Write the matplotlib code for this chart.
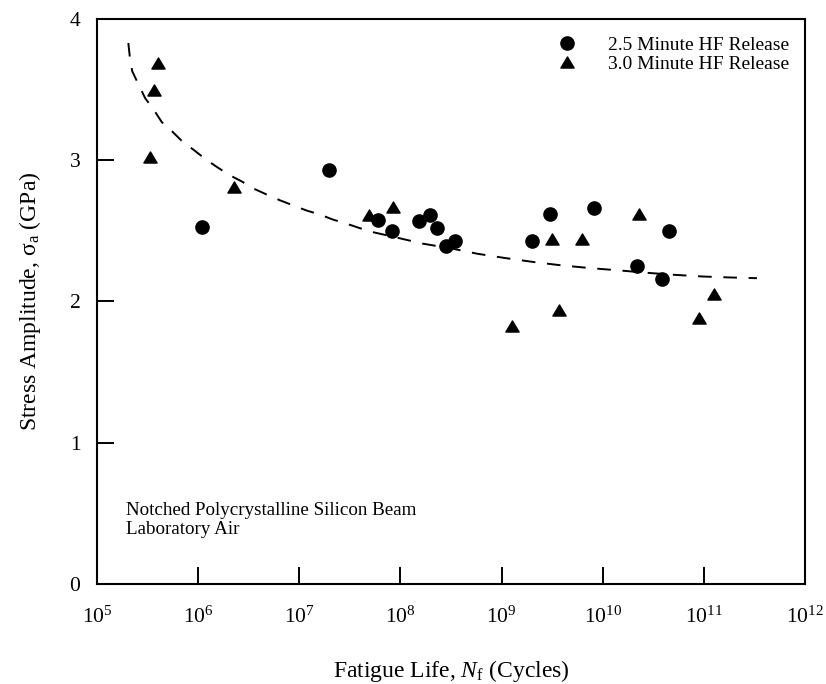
import matplotlib
matplotlib.use("Agg")
import matplotlib.pyplot as plt
from matplotlib.path import Path

plt.rcParams['font.family'] = ['Liberation Serif', 'DejaVu Serif']
plt.rcParams['mathtext.fontset'] = 'custom'
plt.rcParams['mathtext.rm'] = 'Liberation Serif'
plt.rcParams['mathtext.it'] = 'Liberation Serif:italic'
plt.rcParams['mathtext.default'] = 'rm'

# 2.5 minute HF release (circles)
circ_N = [1.09e6, 1.97e7, 5.96e7, 8.34e7, 1.51e8, 1.94e8, 2.29e8, 2.83e8,
          3.48e8, 1.98e9, 3.03e9, 8.18e9, 2.18e10, 3.88e10, 4.48e10]
circ_S = [2.53, 2.93, 2.58, 2.50, 2.57, 2.61, 2.52, 2.39,
          2.43, 2.43, 2.62, 2.66, 2.25, 2.16, 2.50]

# 3.0 minute HF release (triangles)
tri_N = [3.98e5, 3.69e5, 3.34e5, 2.26e6, 4.93e7, 8.53e7, 3.18e9, 6.27e9,
         2.31e10, 1.26e9, 3.69e9, 1.25e11, 8.87e10]
tri_S = [3.69, 3.50, 3.02, 2.81, 2.61, 2.67, 2.44, 2.44,
         2.62, 1.83, 1.94, 2.05, 1.88]

# fitted curve
fit_N = [2.04e5, 2.12e5, 2.23e5, 2.62e5, 2.99e5, 3.66e5, 4.37e5, 5.61e5,
         7.05e5, 9.17e5, 1.17e6, 1.55e6, 2.04e6, 2.70e6, 3.52e6, 4.77e6,
         6.46e6, 8.75e6, 1.17e7, 1.61e7, 2.15e7, 2.96e7, 3.94e7, 5.42e7,
         9.02e7, 1.65e8, 3.27e8, 5.77e8, 1.10e9, 2.10e9, 4.00e9, 7.64e9,
         1.46e10, 2.77e10, 5.09e10, 9.70e10, 1.85e11, 3.35e11]
fit_S = [3.83, 3.72, 3.63, 3.525, 3.44, 3.355, 3.27, 3.20,
         3.13, 3.07, 3.01, 2.95, 2.895, 2.85, 2.80, 2.757,
         2.716, 2.68, 2.645, 2.615, 2.58, 2.55, 2.52, 2.49,
         2.454, 2.41, 2.374, 2.338, 2.307, 2.279, 2.255, 2.236,
         2.22, 2.203, 2.189, 2.177, 2.17, 2.165]

x_ticks = [1e5, 1e6, 1e7, 1e8, 1e9, 1e10, 1e11, 1e12]
x_ticklabels = ['10$^{5}$', '10$^{6}$', '10$^{7}$', '10$^{8}$', '10$^{9}$',
                '10$^{10}$', '10$^{11}$', '10$^{12}$']
y_ticks = [0, 1, 2, 3, 4]

tri_marker = Path([(-1, -0.84), (1, -0.84), (0, 0.84), (-1, -0.84)],
                  [Path.MOVETO, Path.LINETO, Path.LINETO, Path.CLOSEPOLY])

fig = plt.figure(figsize=(8.26, 6.84), dpi=100)
ax = fig.add_axes([97 / 826, 1 - 584 / 684, 708 / 826, 565 / 684])

ax.plot(fit_N, fit_S, color='black', lw=1.4, linestyle=(0, (7, 6)), zorder=2)
ax.plot(circ_N, circ_S, 'o', color='black', markersize=9.5, linestyle='none',
        label='2.5 Minute HF Release', zorder=3)
ax.plot(tri_N, tri_S, marker=tri_marker, color='black', markersize=9.5,
        linestyle='none', label='3.0 Minute HF Release', zorder=3)

ax.set_xscale('log')
ax.set_xlim(1e5, 1e12)
ax.set_ylim(0, 4)
ax.set_xticks(x_ticks)
ax.set_xticklabels(x_ticklabels)
ax.set_yticks(y_ticks)
ax.minorticks_off()
ax.tick_params(direction='in', length=12, width=1.4, labelsize=15.5, pad=12)
ax.tick_params(axis='x', pad=16)
for s in ax.spines.values():
    s.set_linewidth(1.5)

ax.set_xlabel('Fatigue Life, $\\mathit{N}_{\\mathrm{f}}$ (Cycles)', fontsize=17, labelpad=22)
ax.set_ylabel('Stress Amplitude, σ$_{\\mathrm{a}}$ (GPa)', fontsize=17, labelpad=19)

ax.text(0.041, 0.113, 'Notched Polycrystalline Silicon Beam\nLaboratory Air',
        transform=ax.transAxes, fontsize=13.7, linespacing=1.18, va='center', ha='left')

leg = ax.legend(loc='upper left', bbox_to_anchor=((557 - 97) / 708, (584 - 36) / 565),
                frameon=False, fontsize=14, handletextpad=1.6, labelspacing=0.1,
                borderaxespad=0, borderpad=0, handlelength=1.0)

fig.savefig('out.png', dpi=100)
